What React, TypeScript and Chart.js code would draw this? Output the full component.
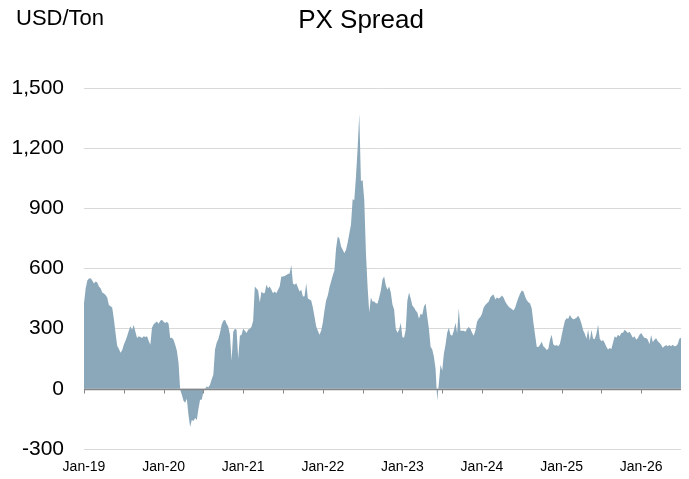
import React, { useEffect, useRef } from 'react';
import { Chart, registerables } from 'chart.js';

Chart.register(...registerables);

// ---- Data (~weekly samples, 4 per month) ----
const START_YEAR = 2019;
const STEP_MONTHS = 0.25;

const spread2019 = [
  427, 500, 540, 550, 552, 540, 525, 535, 530, 510, 502, 480,
  475, 468, 455, 418, 412, 405, 350, 280, 215, 200, 180, 192,
  220, 240, 262, 290, 312, 295, 318, 285, 253, 262, 258, 253,
  262, 258, 262, 240, 220, 305, 322, 330, 336, 325, 340, 345,
];
const spread2020 = [
  335, 328, 335, 325, 253, 255, 245, 220, 190, 130, -5, -30,
  -60, -70, -50, -130, -190, -155, -160, -145, -155, -100, -55, -55,
  -15, 2, 12, 8, 20, 48, 70, 196, 230, 248, 280, 320,
  340, 345, 325, 310, 270, 140, 285, 300, 295, 150, 265, 270,
];
const spread2021 = [
  300, 290, 278, 295, 300, 310, 340, 510, 500, 490, 430, 485,
  477, 478, 519, 502, 510, 494, 477, 485, 477, 494, 510, 560,
  560, 562, 568, 572, 575, 618, 525, 519, 527, 505, 485, 494,
  460, 462, 527, 450, 445, 440, 405, 360, 312, 290, 270, 290,
];
const spread2022 = [
  330, 390, 440, 465, 505, 535, 565, 590, 700, 760, 750, 710,
  693, 676, 693, 730, 775, 820, 945, 941, 1057, 1200, 1370, 1035,
  1041, 941, 680, 510, 380, 455, 436, 436, 427, 425, 455, 490,
  545, 560, 515, 494, 510, 480, 420, 395, 300, 280, 295, 330,
];
const spread2023 = [
  258, 255, 295, 440, 480, 450, 415, 405, 390, 380, 350, 375,
  370, 410, 425, 360, 300, 210, 196, 160, 100, -60, 30, 120,
  90, 175, 220, 280, 305, 270, 265, 290, 330, 278, 403, 290,
  290, 290, 285, 300, 308, 300, 280, 265, 290, 335, 350, 358,
];
const spread2024 = [
  375, 405, 418, 427, 434, 455, 465, 470, 445, 455, 450, 455,
  465, 455, 435, 422, 410, 403, 398, 390, 405, 432, 455, 475,
  490, 485, 460, 442, 432, 425, 400, 330, 270, 210, 208, 220,
  235, 212, 205, 194, 200, 245, 270, 222, 215, 218, 212, 225,
];
const spread2025 = [
  265, 305, 340, 352, 350, 368, 355, 347, 350, 355, 365, 350,
  325, 292, 275, 250, 295, 240, 295, 250, 248, 275, 320, 250,
  237, 243, 229, 210, 196, 203, 198, 230, 262, 255, 270, 262,
  278, 280, 295, 287, 278, 285, 270, 255, 262, 245, 253, 270,
];
const spread2026 = [
  278, 265, 253, 253, 245, 222, 268, 232, 245, 252, 237, 230,
  220, 205, 212, 218, 212, 218, 212, 220, 212, 214, 222, 250, 255,
];

const seriesByYear = [
  spread2019, spread2020, spread2021, spread2022,
  spread2023, spread2024, spread2025, spread2026,
];

const Y_MIN = -300;
const Y_MAX = 1500;
const Y_STEP = 300;
const X_MAX_MONTHS = 90; // through mid-2026
const X_TICK_MONTHS = 6;

const TITLE = 'PX Spread';
const UNIT_LABEL = 'USD/Ton';

const FONT = "'Liberation Sans', Arial, sans-serif";
const FILL_COLOR = '#8aa8ba';
const GRID_COLOR = 'rgba(0,0,0,0.15)';
const ZERO_COLOR = '#868686';

function buildPoints() {
  const pts: { x: number; y: number }[] = [];
  seriesByYear.forEach((arr, yi) => {
    arr.forEach((v, i) => pts.push({ x: yi * 12 + i * STEP_MONTHS, y: v }));
  });
  return pts;
}

const headerPlugin = {
  id: 'header',
  afterDraw(chart: any) {
    const { ctx } = chart;
    ctx.save();
    ctx.fillStyle = '#000';
    ctx.textBaseline = 'alphabetic';
    ctx.font = `22px ${FONT}`;
    ctx.textAlign = 'left';
    ctx.fillText(UNIT_LABEL, 16, 25);
    ctx.font = `26px ${FONT}`;
    ctx.textAlign = 'center';
    ctx.fillText(TITLE, 361, 28);
    ctx.restore();
  },
};

const zeroAxisPlugin = {
  id: 'zeroAxis',
  afterDraw(chart: any) {
    const { ctx, chartArea } = chart;
    const xs = chart.scales.x;
    const ys = chart.scales.y;
    const y0 = Math.round(ys.getPixelForValue(0)) + 0.5;
    ctx.save();
    ctx.strokeStyle = ZERO_COLOR;
    ctx.lineWidth = 1.5;
    ctx.beginPath();
    ctx.moveTo(chartArea.left, y0);
    ctx.lineTo(chartArea.right, y0);
    ctx.stroke();
    ctx.lineWidth = 1;
    xs.ticks.forEach((t: any) => {
      if (t.value >= xs.max) return;
      const px = Math.round(xs.getPixelForValue(t.value)) + 0.5;
      ctx.beginPath();
      ctx.moveTo(px, y0);
      ctx.lineTo(px, y0 + 4);
      ctx.stroke();
    });
    ctx.restore();
  },
};

export default function App() {
  const canvasRef = useRef<HTMLCanvasElement | null>(null);

  useEffect(() => {
    if (!canvasRef.current) return;
    const chart = new Chart(canvasRef.current, {
      type: 'line',
      data: {
        datasets: [
          {
            data: buildPoints(),
            fill: 'origin',
            backgroundColor: FILL_COLOR,
            borderColor: 'rgba(0,0,0,0)',
            borderWidth: 0,
            pointRadius: 0,
            tension: 0,
          },
        ],
      },
      options: {
        animation: false,
        responsive: false,
        devicePixelRatio: 1,
        layout: { padding: { top: 88, right: 8, bottom: 3, left: 0 } },
        plugins: {
          legend: { display: false },
          tooltip: { enabled: false },
          title: { display: false },
        },
        scales: {
          x: {
            type: 'linear',
            min: 0,
            max: X_MAX_MONTHS,
            afterFit: (s: any) => {
              s.height = 27;
              s.paddingLeft = 0;
              s.paddingRight = 0;
            },
            grid: { display: false, drawTicks: false },
            border: { display: false },
            ticks: {
              stepSize: X_TICK_MONTHS,
              autoSkip: false,
              maxRotation: 0,
              padding: 10,
              color: '#000',
              font: { family: FONT, size: 14 },
              callback: (v: any) => {
                const n = Number(v);
                if (n % 12 !== 0) return '';
                const yr = (START_YEAR + n / 12) % 100;
                return 'Jan-' + String(yr).padStart(2, '0');
              },
            },
          },
          y: {
            min: Y_MIN,
            max: Y_MAX,
            z: 1,
            afterFit: (s: any) => {
              s.width = 84;
              s.paddingTop = 0;
              s.paddingBottom = 0;
            },
            grid: {
              color: (c: any) => (c.tick && c.tick.value === 0 ? 'rgba(0,0,0,0)' : GRID_COLOR),
              drawTicks: false,
              lineWidth: 1,
            },
            border: { display: false },
            ticks: {
              stepSize: Y_STEP,
              padding: 20,
              color: '#000',
              font: { family: FONT, size: 21 },
              callback: (v: any) => Number(v).toLocaleString('en-US'),
            },
          },
        },
      },
      plugins: [zeroAxisPlugin, headerPlugin],
    } as any);
    return () => chart.destroy();
  }, []);

  return (
    <div style={{ position: 'absolute', left: 0, top: 0, width: 689, height: 479, background: '#fff' }}>
      <canvas ref={canvasRef} width={689} height={479} style={{ display: 'block' }} />
    </div>
  );
}
